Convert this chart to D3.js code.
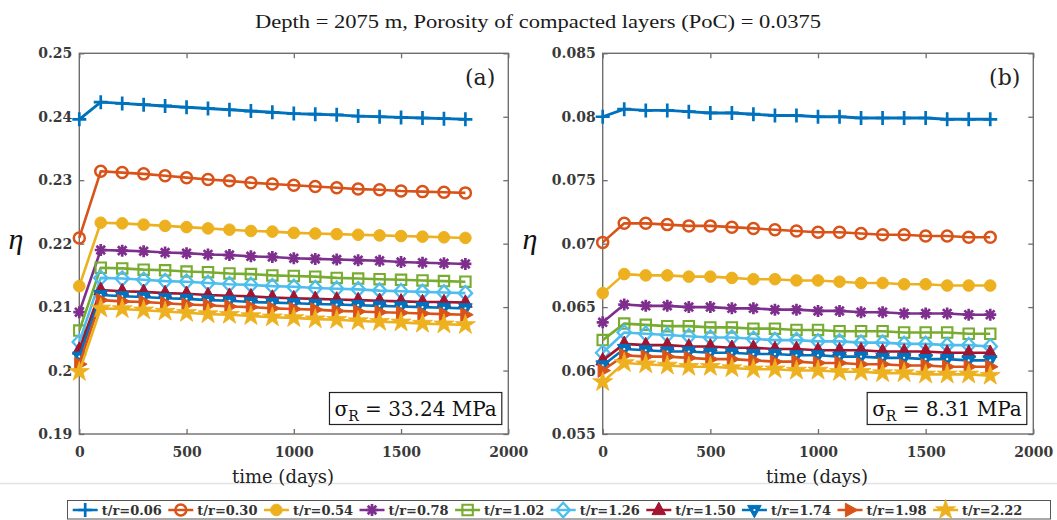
<!DOCTYPE html>
<html>
<head>
<meta charset="utf-8">
<script src="https://cdn.jsdelivr.net/npm/d3@7"></script>
<style>
  body { margin: 0; background: #fff; }
  svg { display: block; }
</style>
</head>
<body>
<svg id="fig" width="1057" height="520"></svg>
<script>
// ---- data -------------------------------------------------------------
const days = [0, 100, 200, 300, 400, 500, 600, 700, 800, 900, 1000, 1100, 1200, 1300, 1400, 1500, 1600, 1700, 1800];
const ratioLabels = ["t/r=0.06", "t/r=0.30", "t/r=0.54", "t/r=0.78", "t/r=1.02", "t/r=1.26", "t/r=1.50", "t/r=1.74", "t/r=1.98", "t/r=2.22"];
const xTickValues = [0, 500, 1000, 1500, 2000];
const xTickLabels = ["0", "500", "1000", "1500", "2000"];
const yTickValuesA = [0.19, 0.20, 0.21, 0.22, 0.23, 0.24, 0.25];
const yTickLabelsA = ["0.19", "0.2", "0.21", "0.22", "0.23", "0.24", "0.25"];
const yTickValuesB = [0.055, 0.060, 0.065, 0.070, 0.075, 0.080, 0.085];
const yTickLabelsB = ["0.055", "0.06", "0.065", "0.07", "0.075", "0.08", "0.085"];
const panelTags = ["(a)", "(b)"];
const sigmaValues = ["33.24", "8.31"];
const titleText = "Depth = 2075 m, Porosity of compacted layers (PoC) = 0.0375";

// panel (a): sigma_R = 33.24 MPa
const a006 = [0.2396, 0.2423, 0.2421, 0.2419, 0.2417, 0.2415, 0.2413, 0.2411, 0.2409, 0.2407, 0.2405, 0.2404, 0.2403, 0.2401, 0.2400, 0.2399, 0.2398, 0.2397, 0.2396];
const a030 = [0.2209, 0.2314, 0.2312, 0.2310, 0.2307, 0.2304, 0.2301, 0.2299, 0.2296, 0.2294, 0.2292, 0.2290, 0.2288, 0.2286, 0.2285, 0.2283, 0.2282, 0.2281, 0.2280];
const a054 = [0.2133, 0.2233, 0.2232, 0.2230, 0.2228, 0.2226, 0.2224, 0.2222, 0.2220, 0.2219, 0.2217, 0.2216, 0.2215, 0.2214, 0.2213, 0.2212, 0.2211, 0.2210, 0.2209];
const a078 = [0.2092, 0.2190, 0.2189, 0.2188, 0.2186, 0.2185, 0.2183, 0.2182, 0.2180, 0.2179, 0.2177, 0.2176, 0.2175, 0.2174, 0.2173, 0.2171, 0.2170, 0.2169, 0.2168];
const a102 = [0.2063, 0.2162, 0.2161, 0.2159, 0.2158, 0.2156, 0.2155, 0.2153, 0.2152, 0.2150, 0.2149, 0.2148, 0.2146, 0.2145, 0.2144, 0.2143, 0.2142, 0.2141, 0.2140];
const a126 = [0.2045, 0.2146, 0.2145, 0.2143, 0.2141, 0.2140, 0.2138, 0.2136, 0.2135, 0.2133, 0.2132, 0.2130, 0.2129, 0.2128, 0.2126, 0.2125, 0.2124, 0.2123, 0.2122];
const a150 = [0.2033, 0.2127, 0.2125, 0.2124, 0.2122, 0.2121, 0.2119, 0.2118, 0.2117, 0.2115, 0.2114, 0.2113, 0.2112, 0.2111, 0.2110, 0.2109, 0.2108, 0.2108, 0.2107];
const a174 = [0.2022, 0.2119, 0.2117, 0.2116, 0.2114, 0.2113, 0.2111, 0.2110, 0.2108, 0.2107, 0.2106, 0.2105, 0.2104, 0.2103, 0.2102, 0.2101, 0.2100, 0.2099, 0.2098];
const a198 = [0.2010, 0.2111, 0.2109, 0.2108, 0.2106, 0.2104, 0.2103, 0.2101, 0.2100, 0.2098, 0.2097, 0.2096, 0.2094, 0.2093, 0.2092, 0.2091, 0.2090, 0.2089, 0.2088];
const a222 = [0.1998, 0.2098, 0.2097, 0.2095, 0.2093, 0.2091, 0.2089, 0.2088, 0.2086, 0.2084, 0.2083, 0.2081, 0.2080, 0.2078, 0.2077, 0.2076, 0.2074, 0.2073, 0.2072];

// panel (b): sigma_R = 8.31 MPa
const b006 = [0.0800, 0.0806, 0.0805, 0.0805, 0.0804, 0.0803, 0.0803, 0.0802, 0.0801, 0.0801, 0.0800, 0.0800, 0.0799, 0.0799, 0.0799, 0.0799, 0.0798, 0.0798, 0.0798];
const b030 = [0.0701, 0.0716, 0.0716, 0.0715, 0.0714, 0.0714, 0.0713, 0.0712, 0.0711, 0.0710, 0.0709, 0.0709, 0.0708, 0.0707, 0.0707, 0.0706, 0.0706, 0.0705, 0.0705];
const b054 = [0.0661, 0.0676, 0.0675, 0.0675, 0.0674, 0.0674, 0.0673, 0.0672, 0.0672, 0.0671, 0.0671, 0.0670, 0.0669, 0.0669, 0.0668, 0.0668, 0.0667, 0.0667, 0.0667];
const b078 = [0.0638, 0.0652, 0.0651, 0.0651, 0.0650, 0.0650, 0.0649, 0.0649, 0.0648, 0.0648, 0.0647, 0.0647, 0.0646, 0.0646, 0.0645, 0.0645, 0.0645, 0.0644, 0.0644];
const b102 = [0.0624, 0.0637, 0.0636, 0.0635, 0.0635, 0.0634, 0.0634, 0.0633, 0.0633, 0.0632, 0.0632, 0.0631, 0.0631, 0.0631, 0.0630, 0.0630, 0.0630, 0.0629, 0.0629];
const b126 = [0.0614, 0.0630, 0.0629, 0.0628, 0.0627, 0.0626, 0.0626, 0.0625, 0.0624, 0.0624, 0.0623, 0.0623, 0.0622, 0.0622, 0.0621, 0.0621, 0.0620, 0.0620, 0.0619];
const b150 = [0.0608, 0.0621, 0.0620, 0.0620, 0.0619, 0.0619, 0.0618, 0.0618, 0.0617, 0.0617, 0.0616, 0.0616, 0.0616, 0.0615, 0.0615, 0.0615, 0.0614, 0.0614, 0.0614];
const b174 = [0.0604, 0.0617, 0.0616, 0.0615, 0.0615, 0.0614, 0.0614, 0.0613, 0.0613, 0.0612, 0.0612, 0.0611, 0.0611, 0.0610, 0.0610, 0.0609, 0.0609, 0.0608, 0.0608];
const b198 = [0.0600, 0.0612, 0.0611, 0.0611, 0.0610, 0.0609, 0.0609, 0.0608, 0.0607, 0.0607, 0.0606, 0.0606, 0.0605, 0.0605, 0.0604, 0.0604, 0.0603, 0.0603, 0.0603];
const b222 = [0.0591, 0.0606, 0.0605, 0.0604, 0.0603, 0.0603, 0.0602, 0.0601, 0.0601, 0.0600, 0.0600, 0.0599, 0.0599, 0.0598, 0.0598, 0.0597, 0.0597, 0.0597, 0.0596];

// ---- styling ----------------------------------------------------------
const colors = ["#0072BD", "#D95319", "#EDB120", "#7E2F8E", "#77AC30", "#4DBEEE", "#A2142F", "#0072BD", "#D95319", "#EDB120"];

function starPath(R) {
  const r = R * 0.382;
  let p = "";
  for (let i = 0; i < 10; i++) {
    const ang = -Math.PI / 2 + i * Math.PI / 5;
    const rad = i % 2 ? r : R;
    p += (i ? "L" : "M") + (rad * Math.cos(ang)).toFixed(2) + "," + (rad * Math.sin(ang)).toFixed(2);
  }
  return p + "Z";
}
const circ = r => `M${r},0A${r},${r} 0 1,1 ${-r},0A${r},${r} 0 1,1 ${r},0Z`;

const markerShapes = [
  { d: "M-7,0H7M0,-7V7", filled: false, sw: 2.7 },
  { d: circ(5.5), filled: false, sw: 2.5 },
  { d: circ(5.8), filled: true, sw: 1 },
  { d: "M-6,0H6M0,-6V6M-4.3,-4.3L4.3,4.3M-4.3,4.3L4.3,-4.3", filled: false, sw: 2.7 },
  { d: "M-5.2,-5.2H5.2V5.2H-5.2Z", filled: false, sw: 2.1 },
  { d: "M0,-7.2L6.7,0L0,7.2L-6.7,0Z", filled: false, sw: 2.3 },
  { d: "M0,-7.8L6.8,4.6L-6.8,4.6Z", filled: true, sw: 1 },
  { d: "M0,7.8L6.8,-4.6L-6.8,-4.6Z", filled: true, sw: 1, dot: true },
  { d: "M7.8,0L-4.6,6.8L-4.6,-6.8Z", filled: true, sw: 1 },
  { d: starPath(10.5), filled: true, sw: 0.8 }
];

const svg = d3.select("#fig");
const serif = "'DejaVu Serif', serif";

// faint page rule below the axes
svg.append("line").attr("x1", 0).attr("x2", 1057).attr("y1", 483.5).attr("y2", 483.5)
  .attr("stroke", "#e2e2e2").attr("stroke-width", 1.5);

// title
svg.append("text")
  .attr("x", 538).attr("y", 28)
  .attr("text-anchor", "middle")
  .attr("font-family", "'Liberation Serif', serif")
  .attr("font-size", 19)
  .attr("fill", "#1a1a1a")
  .attr("textLength", 566).attr("lengthAdjust", "spacingAndGlyphs")
  .text(titleText);

const panels = [
  { x0: 79.3, x1: 508.3, yDomain: [0.19, 0.25], yTicks: yTickValuesA, yLabels: yTickLabelsA,
    series: [a006, a030, a054, a078, a102, a126, a150, a174, a198, a222], xLabelX: 283, etaX: 16 },
  { x0: 602.7, x1: 1033.3, yDomain: [0.055, 0.085], yTicks: yTickValuesB, yLabels: yTickLabelsB,
    series: [b006, b030, b054, b078, b102, b126, b150, b174, b198, b222], xLabelX: 817, etaX: 530 }
];
const yTop = 53.3, yBot = 434;

function drawMarker(g, k, color) {
  const m = markerShapes[k];
  g.append("path").attr("d", m.d)
    .attr("fill", m.filled ? color : "none")
    .attr("stroke", color)
    .attr("stroke-width", m.sw)
    .attr("stroke-linejoin", "miter");
  if (m.dot) g.append("circle").attr("r", 1.1).attr("fill", "#fff");
}

panels.forEach((p, pi) => {
  const x = d3.scaleLinear().domain([0, 2000]).range([p.x0, p.x1]);
  const y = d3.scaleLinear().domain(p.yDomain).range([yBot, yTop]);
  const g = svg.append("g");

  // axes box
  g.append("rect").attr("x", p.x0).attr("y", yTop)
    .attr("width", p.x1 - p.x0).attr("height", yBot - yTop)
    .attr("fill", "none").attr("stroke", "#6e6e6e").attr("stroke-width", 1.4);

  // x axis (bottom) and mirrored ticks on top
  const xAxis = g.append("g").attr("transform", `translate(0,${yBot})`)
    .call(d3.axisBottom(x).tickValues(xTickValues).tickFormat((d, i) => xTickLabels[i]).tickSize(-5).tickPadding(13));
  const xTop = g.append("g").attr("transform", `translate(0,${yTop})`)
    .call(d3.axisTop(x).tickValues(xTickValues).tickFormat("").tickSize(-5));
  // y axis (left) and mirrored ticks on right
  const yAxis = g.append("g").attr("transform", `translate(${p.x0},0)`)
    .call(d3.axisLeft(y).tickValues(p.yTicks).tickFormat((d, i) => p.yLabels[i]).tickSize(-5).tickPadding(7));
  const yRight = g.append("g").attr("transform", `translate(${p.x1},0)`)
    .call(d3.axisRight(y).tickValues(p.yTicks).tickFormat("").tickSize(-5));

  [xAxis, xTop, yAxis, yRight].forEach(a => {
    a.attr("font-family", null).attr("font-size", null);
    a.select(".domain").remove();
    a.selectAll(".tick line").attr("stroke", "#6e6e6e").attr("stroke-width", 1.3);
    a.selectAll(".tick text")
      .attr("font-family", serif).attr("font-weight", "bold")
      .attr("font-size", 14).attr("fill", "#3a3a3a");
  });

  // series lines then markers, drawn in order so the last series sits on top
  const line = d3.line().x((d, i) => x(days[i])).y(d => y(d));
  p.series.forEach((vals, k) => {
    const sg = g.append("g");
    sg.append("path").datum(vals).attr("d", line)
      .attr("fill", "none").attr("stroke", colors[k])
      .attr("stroke-width", k === 0 ? 2.9 : 2.6).attr("stroke-linejoin", "round");
    vals.forEach((v, i) => {
      const mg = sg.append("g").attr("transform", `translate(${x(days[i])},${y(v)})`);
      drawMarker(mg, k, colors[k]);
    });
  });

  // panel tag
  g.append("text").attr("x", p.x1 - 13).attr("y", yTop + 32)
    .attr("text-anchor", "end").attr("font-family", serif)
    .attr("font-size", 22).attr("fill", "#222").text(panelTags[pi]);

  // sigma_R annotation box
  const box = g.append("rect")
    .attr("fill", "#fff").attr("stroke", "#222").attr("stroke-width", 1.2);
  const st = g.append("text").attr("font-family", serif).attr("font-size", 20).attr("fill", "#111");
  st.append("tspan").text("σ");
  st.append("tspan").attr("font-size", 14).attr("dy", 5).text("R");
  st.append("tspan").attr("dy", -5).text(` = ${sigmaValues[pi]} MPa`);
  const bb = st.node().getBBox();
  const boxR = p.x1 - 6.5, boxB = yBot - 9.5, padX = 5, boxH = 32;
  const boxW = bb.width + padX * 2;
  st.attr("transform", `translate(${boxR - boxW + padX - bb.x},${boxB - boxH / 2 + 7})`);
  box.attr("x", boxR - boxW).attr("y", boxB - boxH)
    .attr("width", boxW).attr("height", boxH);

  // axis labels
  g.append("text").attr("x", p.xLabelX).attr("y", 483)
    .attr("text-anchor", "middle").attr("font-family", serif)
    .attr("font-size", 18).attr("fill", "#222").text("time (days)");
  g.append("text").attr("x", p.etaX).attr("y", 249)
    .attr("text-anchor", "middle").attr("font-family", "'Liberation Serif', serif")
    .attr("font-style", "italic").attr("font-size", 30).attr("fill", "#111").text("η");
});

// ---- legend -----------------------------------------------------------
const lg = svg.append("g");
lg.append("rect").attr("x", 67.5).attr("y", 500.5).attr("width", 983).attr("height", 18.5)
  .attr("fill", "#fff").attr("stroke", "#555").attr("stroke-width", 1);
ratioLabels.forEach((lab, k) => {
  const x0 = 72.7 + 95.6 * k, yc = 510;
  const eg = lg.append("g");
  eg.append("line").attr("x1", x0).attr("x2", x0 + 25).attr("y1", yc).attr("y2", yc)
    .attr("stroke", colors[k]).attr("stroke-width", 2.5);
  const mg = eg.append("g").attr("transform", `translate(${x0 + 12.5},${yc})`);
  drawMarker(mg, k, colors[k]);
  eg.append("text").attr("x", x0 + 29).attr("y", yc).attr("dy", "0.35em")
    .attr("font-family", serif).attr("font-weight", "bold").attr("font-size", 13)
    .attr("fill", "#333").text(lab);
});
</script>
</body>
</html>
